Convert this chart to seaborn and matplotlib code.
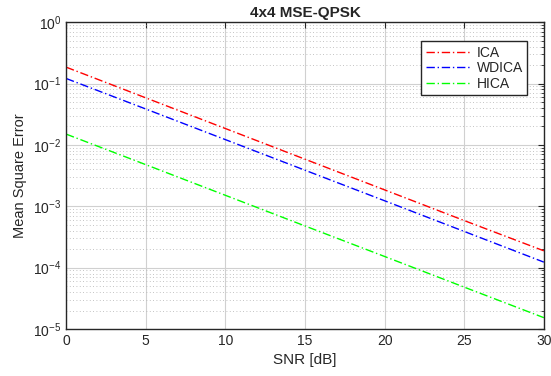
import matplotlib
matplotlib.use("Agg")
import matplotlib.pyplot as plt
import seaborn as sns
import pandas as pd
import numpy as np
from matplotlib.ticker import LogLocator, NullFormatter

snr = [0, 5, 10, 15, 20, 25, 30]
ica = [0.185, 0.0585, 0.0185, 0.00585, 0.00185, 0.000585, 0.000188]
wdica = [0.121, 0.0385, 0.0122, 0.00387, 0.00123, 0.000389, 0.000123]
hica = [0.015, 0.00477, 0.00151, 0.000478, 0.000152, 0.0000481, 0.0000153]

sns.set_style("white")
plt.rcParams['font.family'] = ['Liberation Sans', 'DejaVu Sans']

df = pd.DataFrame({
    "SNR": snr * 3,
    "MSE": ica + wdica + hica,
    "Method": ["ICA"] * 7 + ["WDICA"] * 7 + ["HICA"] * 7,
})

fig = plt.figure(figsize=(5.51, 3.76), dpi=100)
ax = fig.add_axes([0.12, 0.125, 0.867, 0.816])
palette = {"ICA": "#ff0000", "WDICA": "#0000ff", "HICA": "#00ff00"}
sns.lineplot(data=df, x="SNR", y="MSE", hue="Method", palette=palette, ax=ax,
             linewidth=1.0, legend=True)
for line in ax.get_lines():
    line.set_linestyle((0, (6, 2, 1, 2)))
ax.set_yscale("log")
ax.set_xlim(0, 30)
ax.set_ylim(1e-5, 1)
ax.set_xticks([0, 5, 10, 15, 20, 25, 30])
ax.yaxis.set_major_locator(LogLocator(base=10, numticks=10))
ax.yaxis.set_minor_locator(LogLocator(base=10, subs=np.arange(2, 10), numticks=20))
ax.yaxis.set_minor_formatter(NullFormatter())

ax.grid(which="major", color="#d0d0d0", linestyle="-", linewidth=0.8)
ax.grid(which="minor", axis="y", color="#b0b0b0", linestyle=(0, (1, 3)), linewidth=0.6)
ax.set_axisbelow(True)

for s in ax.spines.values():
    s.set_color("#262626")
    s.set_linewidth(1.0)
ax.tick_params(which="both", direction="in", top=True, right=True, colors="#262626", labelsize=10)
ax.tick_params(which="major", length=4)
ax.tick_params(which="minor", length=2)

ax.set_xlabel("SNR [dB]", fontsize=11)
ax.set_ylabel("Mean Square Error", fontsize=10.5)
ax.set_title("4x4 MSE-QPSK", fontsize=11, fontweight="bold", pad=4)

leg = ax.legend(loc="upper right", bbox_to_anchor=(0.98, 0.96), fontsize=10,
                frameon=True, fancybox=False, edgecolor="#262626", framealpha=1,
                handlelength=3.2, borderpad=0.3, labelspacing=0.12, handletextpad=0.5)
leg.get_frame().set_linewidth(1.0)
for h in leg.get_lines():
    h.set_linestyle((0, (6, 2, 1, 2)))

fig.savefig("out.png", dpi=100)
